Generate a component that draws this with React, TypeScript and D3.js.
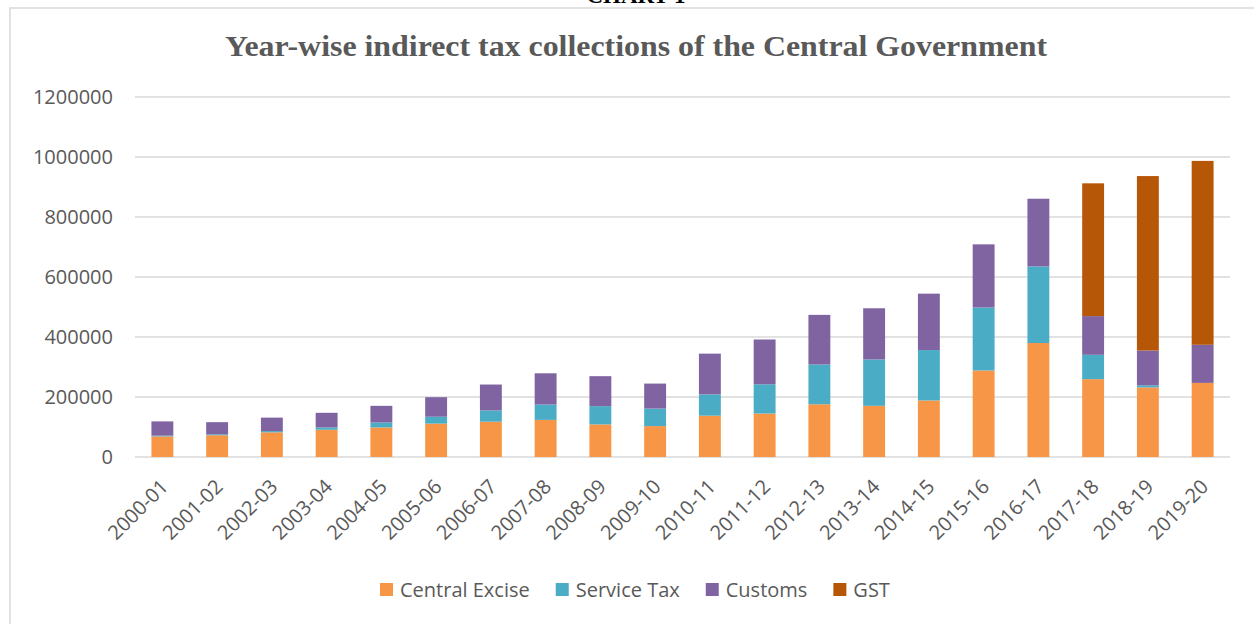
import React, { useEffect, useRef } from "react";
import * as d3 from "d3";

const categories = [
  "2000-01", "2001-02", "2002-03", "2003-04", "2004-05", "2005-06", "2006-07",
  "2007-08", "2008-09", "2009-10", "2010-11", "2011-12", "2012-13", "2013-14",
  "2014-15", "2015-16", "2016-17", "2017-18", "2018-19", "2019-20",
];
const centralExcise = [
  68526, 72555, 82310, 90774, 98500, 111226, 117613, 123611, 108613, 102991,
  137701, 144901, 175845, 170500, 188500, 288500, 380000, 259431, 231982, 247000,
];
const serviceTax = [
  2613, 3302, 4122, 7891, 16500, 23055, 37598, 51301, 60941, 58422,
  71016, 97509, 132601, 154778, 167969, 210000, 255500, 81228, 6904, 0,
];
const customs = [
  47542, 40268, 44852, 48629, 55500, 65067, 86327, 104119, 99879, 83324,
  135813, 149328, 165346, 170500, 188016, 210338, 225370, 129030, 116000, 127000,
];
const gst = [
  0, 0, 0, 0, 0, 0, 0, 0, 0, 0, 0, 0, 0, 0, 0, 0, 0, 442562, 581559, 613000,
];
const seriesNames = ["Central Excise", "Service Tax", "Customs", "GST"];
const seriesColors = ["#F79646", "#4BACC6", "#8064A2", "#B65708"];
const yTicks = [0, 200000, 400000, 600000, 800000, 1000000, 1200000];
const titleText = "Year-wise indirect tax collections of the Central Government";
const headerText = "CHART 1";

export default function App() {
  const ref = useRef<SVGSVGElement | null>(null);

  useEffect(() => {
    const svg = d3.select(ref.current);
    svg.selectAll("*").remove();
    const W = 1254, H = 624;
    const left = 135, right = 1230, top = 97, bottom = 457;
    const gray = "#595959";
    const sans = "'Open Sans', 'Noto Sans', sans-serif";

    svg.append("rect").attr("width", W).attr("height", H).attr("fill", "#fff");

    // cropped header text at very top
    svg.append("text")
      .attr("x", 636).attr("y", 3)
      .attr("text-anchor", "middle")
      .attr("font-family", "'Liberation Serif', 'Times New Roman', serif")
      .attr("font-weight", "bold").attr("font-size", 23)
      .attr("fill", "#000").text(headerText);

    // frame
    svg.append("rect")
      .attr("x", 10).attr("y", 8).attr("width", W + 10).attr("height", H + 10)
      .attr("fill", "none").attr("stroke", "#D9D9D9").attr("stroke-width", 1.5);

    // title
    svg.append("text")
      .attr("x", 225).attr("y", 56)
      .attr("font-family", "'Liberation Serif', 'Times New Roman', serif")
      .attr("font-weight", "bold").attr("font-size", 30)
      .attr("textLength", 822).attr("lengthAdjust", "spacingAndGlyphs")
      .attr("fill", gray).text(titleText);

    const x = d3.scaleBand<string>().domain(categories).range([left, right])
      .paddingInner(0.6).paddingOuter(0.3);
    const y = d3.scaleLinear().domain([0, 1200000]).range([bottom, top]);

    // grid
    svg.append("g").selectAll("line").data(yTicks).join("line")
      .attr("x1", left).attr("x2", right)
      .attr("y1", (d) => y(d)).attr("y2", (d) => y(d))
      .attr("stroke", "#D9D9D9").attr("stroke-width", 1.5);

    // y labels
    svg.append("g").selectAll("text").data(yTicks).join("text")
      .attr("x", 113).attr("y", (d) => y(d)).attr("dy", "0.35em")
      .attr("text-anchor", "end").attr("font-family", sans).attr("font-size", 20)
      .attr("fill", gray).text((d) => String(d));

    // stacked bars
    const rows = categories.map((c, i) => ({
      cat: c, ce: centralExcise[i], st: serviceTax[i], cu: customs[i], gst: gst[i],
    }));
    const keys = ["ce", "st", "cu", "gst"];
    const stack = d3.stack<any>().keys(keys)(rows);
    stack.forEach((layer, li) => {
      svg.append("g").selectAll("rect").data(layer).join("rect")
        .attr("x", (d: any) => x(d.data.cat) as number)
        .attr("width", x.bandwidth())
        .attr("y", (d: any) => y(d[1]))
        .attr("height", (d: any) => Math.max(0, y(d[0]) - y(d[1])))
        .attr("fill", seriesColors[li]);
    });

    // x labels
    svg.append("g").selectAll("text").data(categories).join("text")
      .attr("transform", (d) => {
        const cx = (x(d) as number) + x.bandwidth() / 2 + 7;
        return `translate(${cx},${bottom + 31}) rotate(-45)`;
      })
      .attr("text-anchor", "end").attr("font-family", sans).attr("font-size", 20)
      .attr("fill", gray).text((d) => d);

    // legend
    const lg = svg.append("g");
    let lx = 380;
    seriesNames.forEach((name, i) => {
      lg.append("rect").attr("x", lx).attr("y", 583).attr("width", 13).attr("height", 13)
        .attr("fill", seriesColors[i]);
      const t = lg.append("text").attr("x", lx + 20).attr("y", 597)
        .attr("font-family", sans).attr("font-size", 20).attr("fill", gray).text(name);
      const w = (t.node() as SVGTextElement).getComputedTextLength();
      lx = lx + 20 + w + 26;
    });
  }, []);

  return (
    <svg
      ref={ref}
      width={1254}
      height={624}
      style={{ position: "fixed", left: 0, top: 0, display: "block" }}
    />
  );
}
